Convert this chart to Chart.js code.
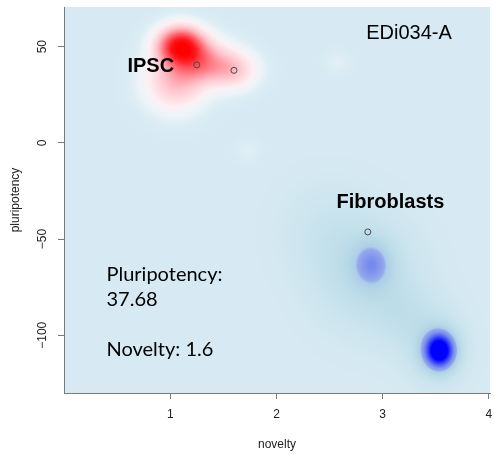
<!DOCTYPE html>
<html>
<head>
<meta charset="utf-8">
<script src="https://cdn.jsdelivr.net/npm/chart.js@4.4.1/dist/chart.umd.min.js"></script>
<style>
  body { margin: 0; background: #fff; }
  #wrap { width: 494px; height: 456px; }
</style>
</head>
<body>
<div id="wrap"><canvas id="potencyMap"></canvas></div>
<script>
const noveltyTicks = [1, 2, 3, 4];
const pluriTicks = [-100, -50, 0, 50];

// cells shown as open circles
const cellNovelty = [1.25, 1.6, 2.86];
const cellPluri = [40.5, 37.68, -46.3];

// iPSC reference density (gaussian kernels)
const ipscNovelty = [1.1, 1.28, 1.58, 1.05, 2.57, 1.73];
const ipscPluri = [50, 42, 38, 32, 42, -4];
const ipscSdNovelty = [0.13, 0.17, 0.14, 0.17, 0.07, 0.07];
const ipscSdPluri = [6, 7, 6, 9, 3.5, 3.5];
const ipscWeight = [0.92, 0.4, 0.22, 0.25, 0.016, 0.014];

// fibroblast reference density
const fibroNovelty = [2.85, 2.45, 2.9, 3.5, 3.535, 3.2];
const fibroPluri = [-68, -45, -63, -106, -108, -90];
const fibroSdNovelty = [0.33, 0.3, 0.12, 0.2, 0.1, 0.2];
const fibroSdPluri = [20, 18, 8, 14, 6.5, 12];
const fibroWeight = [0.22, 0.08, 0.35, 0.18, 1.1, 0.1];

const bg = [215, 234, 243];
const redStops = [
    [0, bg], [0.03, [236, 244, 248]], [0.08, [252, 240, 243]],
    [0.25, [255, 192, 200]], [0.5, [255, 105, 115]], [0.8, [255, 25, 30]], [1, [255, 0, 0]]
];
const blueStops = [
    [0, bg], [0.1, [202, 228, 237]], [0.25, [184, 218, 231]],
    [0.38, [172, 205, 232]], [0.42, [150, 170, 236]], [0.55, [125, 145, 237]],
    [0.75, [70, 85, 245]], [1, [0, 0, 255]]
];

function kernelSum(nx, py, sx, sy, wt, x, y) {
    let s = 0;
    for (let k = 0; k < nx.length; k++) {
        const dx = (x - nx[k]) / sx[k], dy = (y - py[k]) / sy[k];
        s += wt[k] * Math.exp(-0.5 * (dx * dx + dy * dy));
    }
    return s;
}

function ramp(stops, v) {
    if (v <= stops[0][0]) return stops[0][1];
    for (let k = 1; k < stops.length; k++) {
        if (v <= stops[k][0]) {
            const [v0, c0] = stops[k - 1], [v1, c1] = stops[k];
            const t = (v - v0) / (v1 - v0);
            return [0, 1, 2].map(n => c0[n] + (c1[n] - c0[n]) * t);
        }
    }
    return stops[stops.length - 1][1];
}

// paints the smoothed density under everything else
const densityLayer = {
    id: 'densityLayer',
    beforeDraw(chart) {
        const { ctx, chartArea: a, scales: { x, y } } = chart;
        const left = Math.round(a.left), top = Math.round(a.top);
        const w = Math.round(a.right) - left, h = Math.round(a.bottom) - top;
        const img = ctx.createImageData(w, h);
        const xs = [], ys = [];
        for (let i = 0; i < w; i++) xs.push(x.getValueForPixel(left + i + 0.5));
        for (let j = 0; j < h; j++) ys.push(y.getValueForPixel(top + j + 0.5));
        for (let j = 0; j < h; j++) {
            for (let i = 0; i < w; i++) {
                const r = kernelSum(ipscNovelty, ipscPluri, ipscSdNovelty, ipscSdPluri, ipscWeight, xs[i], ys[j]);
                const b = kernelSum(fibroNovelty, fibroPluri, fibroSdNovelty, fibroSdPluri, fibroWeight, xs[i], ys[j]);
                const c = r > b ? ramp(redStops, r) : ramp(blueStops, b);
                const p = (j * w + i) * 4;
                img.data[p] = c[0];
                img.data[p + 1] = c[1];
                img.data[p + 2] = c[2];
                img.data[p + 3] = 255;
            }
        }
        ctx.putImageData(img, left, top);
    }
};

// tick labels (R style, y labels turned) and the text notes
const labelLayer = {
    id: 'labelLayer',
    afterDraw(chart) {
        const { ctx, scales: { x, y } } = chart;
        ctx.save();
        ctx.fillStyle = '#222';
        ctx.font = '12px "Liberation Sans", Arial, sans-serif';
        ctx.textAlign = 'center';
        ctx.textBaseline = 'middle';
        noveltyTicks.forEach(v => ctx.fillText(String(v), x.getPixelForValue(v), 415));
        pluriTicks.forEach(v => {
            ctx.save();
            ctx.translate(43, y.getPixelForValue(v));
            ctx.rotate(-Math.PI / 2);
            ctx.fillText(String(v).replace('-', '\u2212'), 0, 0);
            ctx.restore();
        });

        ctx.textAlign = 'left';
        ctx.textBaseline = 'alphabetic';
        ctx.fillStyle = '#000';
        ctx.font = 'bold 20px "Liberation Sans", Arial, sans-serif';
        ctx.fillText('IPSC', x.getPixelForValue(0.597), y.getPixelForValue(36.7));
        ctx.fillText('Fibroblasts', x.getPixelForValue(2.565), y.getPixelForValue(-34.0));
        ctx.font = '20px "Liberation Sans", Arial, sans-serif';
        ctx.fillText('EDi034-A', x.getPixelForValue(2.845), y.getPixelForValue(53.8));
        ctx.font = '20px Lato, "Open Sans", sans-serif';
        const nx = x.getPixelForValue(0.4);
        ctx.fillText('Pluripotency:', nx, y.getPixelForValue(-71.7));
        ctx.fillText('37.68', nx, y.getPixelForValue(-84.7));
        ctx.fillText('Novelty: 1.6', nx, y.getPixelForValue(-111.0));
        ctx.restore();
    }
};

const axisFont = { family: '"Liberation Sans", Arial, sans-serif', size: 12 };

new Chart(document.getElementById('potencyMap'), {
    type: 'scatter',
    data: {
        datasets: [{
            data: cellNovelty.map((v, i) => ({ x: v, y: cellPluri[i] })),
            pointRadius: 3,
            pointHoverRadius: 3,
            borderWidth: 1,
            borderColor: '#4a4a4a',
            backgroundColor: 'rgba(0,0,0,0)'
        }]
    },
    options: {
        responsive: true,
        maintainAspectRatio: false,
        animation: false,
        events: [],
        layout: { padding: { top: 7, left: 0, right: 0, bottom: 0 } },
        plugins: {
            legend: { display: false },
            tooltip: { enabled: false }
        },
        scales: {
            x: {
                type: 'linear',
                min: 0,
                max: 4.01,
                afterBuildTicks: s => { s.ticks = noveltyTicks.map(v => ({ value: v })); },
                afterFit: s => { s.height = 63; },
                ticks: { display: false },
                grid: { drawOnChartArea: false, color: '#7a7a7a', tickLength: 6 },
                border: { color: '#7a7a7a', width: 1 },
                title: { display: true, text: 'novelty', font: axisFont, color: '#222', padding: 4 }
            },
            y: {
                type: 'linear',
                min: -130,
                max: 70.6,
                afterBuildTicks: s => { s.ticks = pluriTicks.map(v => ({ value: v })); },
                afterFit: s => { s.width = 64; },
                ticks: { display: false },
                grid: { drawOnChartArea: false, color: '#7a7a7a', tickLength: 6 },
                border: { color: '#7a7a7a', width: 1 },
                title: { display: true, text: 'pluripotency', font: axisFont, color: '#222', padding: 8 }
            }
        }
    },
    plugins: [densityLayer, labelLayer]
});
</script>
</body>
</html>
